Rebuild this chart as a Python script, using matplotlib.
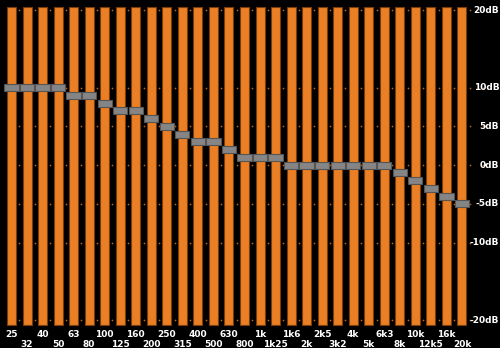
import matplotlib.pyplot as plt
import numpy as np

# 30-band graphic EQ
bandas = ["25", "32", "40", "50", "63", "80", "100", "125", "160", "200",
          "250", "315", "400", "500", "630", "800", "1k", "1k25", "1k6", "2k",
          "2k5", "3k2", "4k", "5k", "6k3", "8k", "10k", "12k5", "16k", "20k"]
ganhos = [10, 10, 10, 10, 9, 9, 8, 7, 7, 6, 5, 4, 3, 3, 2, 1, 1, 1, 0, 0,
          0, 0, 0, 0, 0, -1, -2, -3, -4, -5]
niveis_db = [20, 10, 5, 0, -5, -10, -20]
rotulos_db = ["20dB", "10dB", "5dB", "0dB", "-5dB", "-10dB", "-20dB"]

LARANJA = "#ea7f25"
BORDA = "#7a3c08"
CINZA = "#858585"

fig = plt.figure(figsize=(5, 3.48), dpi=100)
fig.patch.set_facecolor("black")
ax = fig.add_axes([0, 0, 1, 1])
ax.set_facecolor("black")

x = np.arange(len(bandas))
ax.set_xlim(-0.74, 31.45)
ax.set_ylim(-23.6, 21.3)

# linhas de grade pontilhadas entre as faixas (e um ponto antes do rótulo)
xs_grade = np.append(np.arange(len(bandas)) + 0.5, 30.35)
for nivel in niveis_db:
    ax.scatter(xs_grade, [nivel] * len(xs_grade),
               s=1.5, color="#b8661c", zorder=1, linewidths=0)

# faixas dos sliders
ax.bar(x, 41.05, bottom=-20.65, width=0.58, color=LARANJA,
       edgecolor=BORDA, linewidth=0.8, zorder=2)

# botões dos sliders
ax.bar(x, 0.9, bottom=np.array(ganhos) - 0.45, width=0.92, color=CINZA,
       edgecolor="#555555", linewidth=0.8, zorder=3)

for nivel, rot in zip(niveis_db, rotulos_db):
    ax.text(31.4, nivel, rot, color="white", fontsize=6.5,
            fontweight="bold", ha="right", va="center")

for i, b in enumerate(bandas):
    y = -21.8 if i % 2 == 0 else -23.1
    ax.text(i, y, b, color="white", fontsize=6.5, fontweight="bold",
            ha="center", va="center")

ax.axis("off")
plt.savefig("out.png", dpi=100, facecolor="black")
